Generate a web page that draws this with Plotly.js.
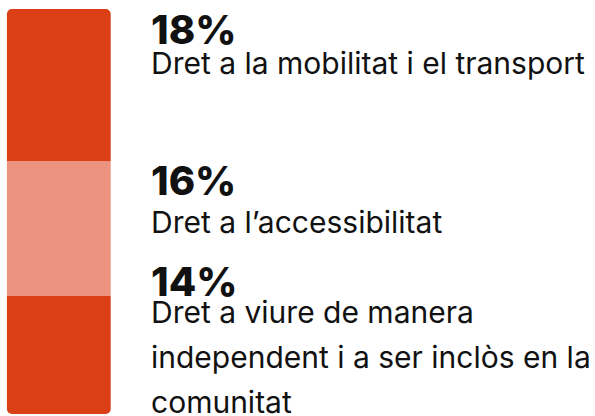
<!DOCTYPE html>
<html>
<head>
<meta charset="utf-8">
<script src="https://cdn.plot.ly/plotly-3.0.1.min.js"></script>
<style>html,body{margin:0;padding:0;background:#fff;}#chart{width:595px;height:416px;}</style>
</head>
<body>
<div id="chart"></div>
<script>
// Data (top to bottom)
const categories = ["Dret a la mobilitat i el transport", "Dret a l’accessibilitat", "Dret a viure de manera independent i a ser inclòs en la comunitat"];
const values = [18, 16, 14];
const percentLabels = ["18%", "16%", "14%"];
const labelLines = [["Dret a la mobilitat i el transport"], ["Dret a l’accessibilitat"], ["Dret a viure de manera", "independent i a ser inclòs en la", "comunitat"]];
const colors = ["#DA3F16", "#EC9380", "#DA3F16"];

// Stack: middle segment from 0 upward, top segment above it, bottom segment downward (so both outer ends get rounded corners)
const traces = [
  {type: "bar", x: ["a"], y: [values[1]], marker: {color: colors[1]}, width: 1, hoverinfo: "skip", name: categories[1]},
  {type: "bar", x: ["a"], y: [values[0]], marker: {color: colors[0]}, width: 1, hoverinfo: "skip", name: categories[0]},
  {type: "bar", x: ["a"], y: [-values[2]], marker: {color: colors[2]}, width: 1, hoverinfo: "skip", name: categories[2]}
];

const total = values[0] + values[1];
const font = "Inter, 'Liberation Sans', sans-serif";
const X0 = 150 / 595;
function py(px) { return 1 - px / 416; }

const annotations = [];
const pctTops = [3.5, 155.5, 255.5];
const lblTops = [[44], [203], [293, 338, 383]];
for (let i = 0; i < 3; i++) {
  annotations.push({xref: "paper", yref: "paper", x: X0, y: py(pctTops[i]), xanchor: "left", yanchor: "top", showarrow: false, borderpad: 0,
    text: percentLabels[i], font: {family: font, size: 40, weight: 800, color: "#111111"}});
  labelLines[i].forEach((ln, j) => {
    annotations.push({xref: "paper", yref: "paper", x: X0, y: py(lblTops[i][j]), xanchor: "left", yanchor: "top", showarrow: false, borderpad: 0,
      text: ln, font: {family: font, size: 30, color: "#111111"}});
  });
}

const layout = {
  width: 595, height: 416,
  margin: {l: 0, r: 0, t: 0, b: 0},
  paper_bgcolor: "#ffffff", plot_bgcolor: "#ffffff",
  barmode: "relative",
  barcornerradius: 5,
  showlegend: false,
  xaxis: {range: [-0.5667, 5.1667], visible: false, fixedrange: true},
  yaxis: {range: [-values[2] - 0.237, total + 1.067], visible: false, fixedrange: true},
  annotations: annotations
};

Plotly.newPlot("chart", traces, layout, {staticPlot: true, displayModeBar: false});
</script>
</body>
</html>
